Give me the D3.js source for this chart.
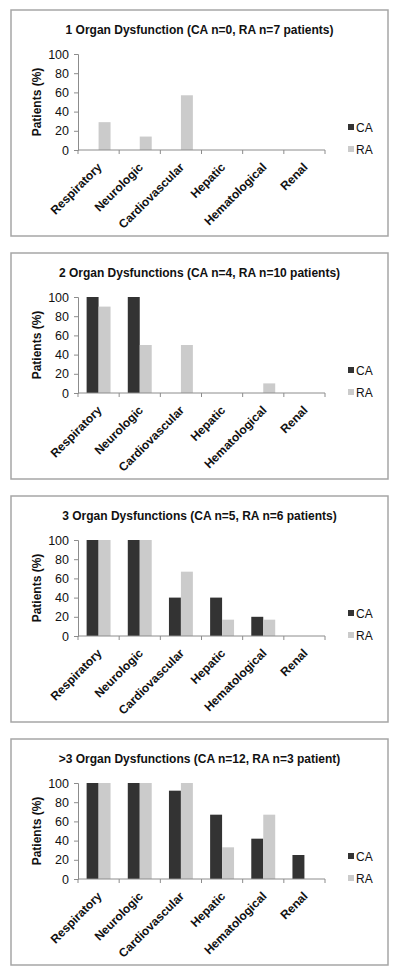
<!DOCTYPE html>
<html>
<head>
<meta charset="utf-8">
<script src="https://cdn.jsdelivr.net/npm/d3@7"></script>
<style>
  html, body { margin: 0; padding: 0; background: #fff; }
  svg { display: block; font-family: "Liberation Sans", Arial, Helvetica, sans-serif; }
</style>
</head>
<body>
<svg id="chart" width="400" height="977"></svg>
<script>
// ---- Data ----
const categories = ["Respiratory", "Neurologic", "Cardiovascular", "Hepatic", "Hematological", "Renal"];
const seriesNames = ["CA", "RA"];
const titles = [
  "1 Organ Dysfunction (CA n=0, RA n=7 patients)",
  "2 Organ Dysfunctions (CA n=4, RA n=10 patients)",
  "3 Organ Dysfunctions (CA n=5, RA n=6 patients)",
  ">3 Organ Dysfunctions (CA n=12, RA n=3 patient)"
];
const caValues = [
  [0, 0, 0, 0, 0, 0],
  [100, 100, 0, 0, 0, 0],
  [100, 100, 40, 40, 20, 0],
  [100, 100, 92, 67, 42, 25]
];
const raValues = [
  [29, 14, 57, 0, 0, 0],
  [90, 50, 50, 0, 10, 0],
  [100, 100, 67, 17, 17, 0],
  [100, 100, 100, 33, 67, 0]
];
const yTicks = [0, 20, 40, 60, 80, 100];
const yLabel = "Patients (%)";

// ---- Layout ----
const svg = d3.select("#chart");
const colors = { CA: "#333333", RA: "#cbcbcb" };
const panelLeft = 11, panelRight = 388, panelH = 226;
const panelTops = [10, 253, 496, 739];
const plotX0 = 78, plotX1 = 325;
const plotTopOff = 44, plotBotOff = 140;

const x = d3.scaleBand().domain(categories).range([plotX0, plotX1]).paddingInner(0).paddingOuter(0);
const xs = d3.scaleBand().domain(seriesNames).range([0, x.bandwidth()]).paddingInner(0).paddingOuter(0.72);

titles.forEach((title, i) => {
  const top = panelTops[i];
  const g = svg.append("g");

  g.append("rect")
    .attr("x", panelLeft).attr("y", top)
    .attr("width", panelRight - panelLeft).attr("height", panelH)
    .attr("fill", "#fff").attr("stroke", "#a6a6a6").attr("stroke-width", 1.5);

  g.append("text")
    .attr("x", (panelLeft + panelRight) / 2).attr("y", top + 24)
    .attr("text-anchor", "middle")
    .attr("font-size", 12).attr("font-weight", "bold").attr("fill", "#111")
    .text(title);

  const y = d3.scaleLinear().domain([0, 100]).range([top + plotBotOff, top + plotTopOff]);

  // y axis
  const yAxis = g.append("g")
    .attr("transform", `translate(${plotX0},0)`)
    .call(d3.axisLeft(y).tickValues(yTicks).tickSize(4).tickPadding(5));
  yAxis.select(".domain").attr("stroke", "#8c8c8c");
  yAxis.selectAll(".tick line").attr("stroke", "#8c8c8c");
  yAxis.selectAll(".tick text")
    .attr("font-size", 12.5).attr("fill", "#111")
    .attr("font-family", "Liberation Sans, Arial, sans-serif");

  g.append("text")
    .attr("transform", `translate(41,${(y(0) + y(100)) / 2}) rotate(-90)`)
    .attr("text-anchor", "middle")
    .attr("font-size", 12).attr("font-weight", "bold").attr("fill", "#111")
    .text(yLabel);

  // bars
  const rows = categories.map((c, k) => ({ cat: c, CA: caValues[i][k], RA: raValues[i][k] }));
  seriesNames.forEach(s => {
    g.selectAll(null).data(rows.filter(r => r[s] > 0)).enter().append("rect")
      .attr("x", d => x(d.cat) + xs(s))
      .attr("width", xs.bandwidth())
      .attr("y", d => y(d[s]))
      .attr("height", d => y(0) - y(d[s]))
      .attr("fill", colors[s]);
  });

  // x axis
  const xAxisG = g.append("g").attr("transform", `translate(0,${y(0)})`);
  xAxisG.append("line")
    .attr("x1", plotX0).attr("x2", plotX1).attr("y1", 0).attr("y2", 0)
    .attr("stroke", "#8c8c8c");
  const boundaries = categories.map(c => x(c)).concat([x(categories[categories.length - 1]) + x.bandwidth()]);
  xAxisG.selectAll(null).data(boundaries).enter().append("line")
    .attr("x1", d => d).attr("x2", d => d).attr("y1", 0).attr("y2", 4)
    .attr("stroke", "#8c8c8c");
  xAxisG.selectAll(null).data(categories).enter().append("text")
    .attr("transform", d => `translate(${x(d) + x.bandwidth() / 2 + 4},18) rotate(-45)`)
    .attr("text-anchor", "end")
    .attr("font-size", 12).attr("font-weight", "bold").attr("fill", "#111")
    .text(d => d);

  // legend
  const leg = g.append("g");
  seriesNames.forEach((s, k) => {
    const ly = top + 117 + k * 22;
    leg.append("rect").attr("x", 348).attr("y", ly - 3).attr("width", 6).attr("height", 6).attr("fill", colors[s]);
    leg.append("text").attr("x", 356).attr("y", ly + 4.5)
      .attr("font-size", 12).attr("fill", "#111").text(s);
  });
});
</script>
</body>
</html>
